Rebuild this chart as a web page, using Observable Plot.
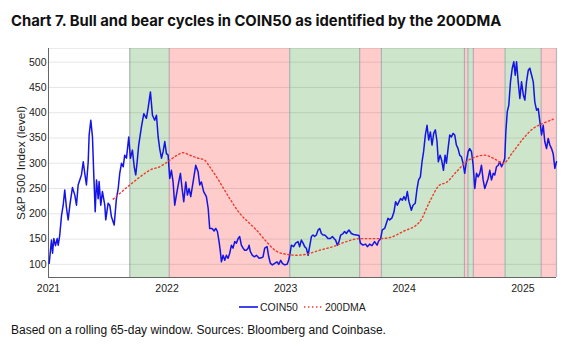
<!DOCTYPE html>
<html>
<head>
<meta charset="utf-8">
<script src="https://cdn.jsdelivr.net/npm/d3@7"></script>
<script src="https://cdn.jsdelivr.net/npm/@observablehq/plot@0.6"></script>
<style>
  html, body { margin: 0; padding: 0; background: #fff; }
  body { width: 573px; height: 348px; position: relative; overflow: hidden; }
  #title { position: absolute; left: 11px; top: 12px; font: 700 14.8px Inter, "Liberation Sans", sans-serif; color: #111; white-space: nowrap; line-height: 18px; }
  #chart { position: absolute; left: 0; top: 36px; }
  #ylabel { position: absolute; left: 21px; top: 163px; transform: translate(-50%, -50%) rotate(-90deg); font: 11.8px "Liberation Sans", sans-serif; color: #222; white-space: nowrap; }
  #legend { position: absolute; left: 239px; top: 301px; display: flex; align-items: center; font: 10.5px "Liberation Sans Narrow", "Liberation Sans", sans-serif; color: #222; }
  #legend span { margin: 0 6px 0 2px; }
  #caption { position: absolute; left: 11px; top: 323px; font: 12px "Liberation Sans", sans-serif; color: #111; white-space: nowrap; }
</style>
</head>
<body>
<div id="title">Chart 7. Bull and bear cycles in COIN50 as identified by the 200DMA</div>
<div id="chart"></div>
<div id="ylabel"></div>
<div id="legend"></div>
<div id="caption">Based on a rolling 65-day window. Sources: Bloomberg and Coinbase.</div>
<script>
// ---- Data ----
const seriesNames = ["COIN50", "200DMA"];
const seriesColors = ["#1414e6", "#f03a2c"];

// COIN50 index level, dates as decimal years
const coinYear = [
  2021.006,2021.025,2021.034,2021.045,2021.059,2021.073,2021.082,2021.095,2021.110,2021.124,
  2021.137,2021.152,2021.166,2021.180,2021.202,2021.222,2021.236,2021.250,2021.264,2021.278,
  2021.293,2021.306,2021.320,2021.335,2021.343,2021.357,2021.371,2021.382,2021.394,2021.405,
  2021.419,2021.427,2021.441,2021.455,2021.475,2021.483,2021.503,2021.517,2021.531,2021.554,
  2021.573,2021.588,2021.601,2021.616,2021.630,2021.643,2021.658,2021.677,2021.691,2021.708,
  2021.723,2021.736,2021.748,2021.761,2021.784,2021.804,2021.826,2021.841,2021.860,2021.877,
  2021.896,2021.911,2021.925,2021.938,2021.953,2021.967,2021.981,2021.995,2022.009,2022.023,
  2022.037,2022.051,2022.065,2022.079,2022.099,2022.113,2022.127,2022.141,2022.158,2022.172,
  2022.186,2022.200,2022.220,2022.242,2022.262,2022.276,2022.290,2022.309,2022.332,2022.347,
  2022.360,2022.380,2022.397,2022.411,2022.425,2022.439,2022.450,2022.459,2022.473,2022.487,
  2022.501,2022.515,2022.529,2022.543,2022.557,2022.571,2022.585,2022.600,2022.613,2022.627,
  2022.642,2022.655,2022.669,2022.684,2022.692,2022.703,2022.720,2022.739,2022.754,2022.777,
  2022.796,2022.810,2022.824,2022.844,2022.858,2022.872,2022.889,2022.908,2022.928,2022.942,
  2022.959,2022.973,2022.992,2023.013,2023.026,2023.035,2023.049,2023.068,2023.085,2023.105,
  2023.119,2023.133,2023.148,2023.161,2023.175,2023.190,2023.203,2023.218,2023.232,2023.245,
  2023.260,2023.274,2023.288,2023.302,2023.316,2023.330,2023.344,2023.358,2023.378,2023.395,
  2023.409,2023.422,2023.437,2023.451,2023.465,2023.485,2023.498,2023.513,2023.527,2023.535,
  2023.555,2023.574,2023.597,2023.620,2023.631,2023.653,2023.675,2023.690,2023.709,2023.729,
  2023.751,2023.772,2023.785,2023.802,2023.816,2023.836,2023.850,2023.864,2023.878,2023.898,
  2023.915,2023.928,2023.943,2023.957,2023.970,2023.985,2023.999,2024.013,2024.027,2024.041,
  2024.061,2024.075,2024.094,2024.109,2024.122,2024.137,2024.151,2024.164,2024.179,2024.193,
  2024.207,2024.221,2024.235,2024.249,2024.263,2024.277,2024.288,2024.303,2024.316,2024.331,
  2024.345,2024.356,2024.370,2024.384,2024.398,2024.412,2024.426,2024.440,2024.454,2024.468,
  2024.482,2024.496,2024.510,2024.524,2024.539,2024.552,2024.567,2024.581,2024.595,2024.609,
  2024.623,2024.637,2024.651,2024.665,2024.679,2024.693,2024.707,2024.721,2024.735,2024.750,
  2024.763,2024.777,2024.792,2024.805,2024.820,2024.834,2024.847,2024.856,2024.868,2024.881,
  2024.895,2024.910,2024.923,2024.935,2024.946,2024.960,2024.974,2024.988,2025.003,2025.016,
  2025.030,2025.045,2025.058,2025.073,2025.087,2025.100,2025.115,2025.129,2025.143,2025.157,
  2025.171,2025.184,2025.199,2025.213,2025.227,2025.241,2025.255,2025.269,2025.283
];
const coinValue = [
  102,148,122,151,137,151,138,158,197,217,
  247,211,188,217,252,237,217,257,267,277,
  303,280,257,303,356,385,352,277,204,267,
  230,264,217,244,217,188,221,217,194,178,
  230,250,280,300,293,316,310,352,310,326,
  293,277,303,336,372,398,389,410,441,395,
  385,395,352,329,310,323,343,319,316,270,
  286,263,217,237,263,280,250,224,263,237,
  250,234,263,296,283,257,263,244,234,211,
  171,171,166,171,165,145,125,105,118,108,
  118,112,122,138,132,145,142,151,155,138,
  132,128,128,132,138,125,118,115,118,112,
  113,115,132,135,115,102,99,102,105,100,
  108,102,99,100,108,118,138,135,142,145,
  135,148,142,135,132,118,135,155,158,155,
  158,168,171,161,158,158,155,151,151,155,
  151,148,138,145,158,161,165,161,166,168,
  161,159,158,157,142,138,140,135,140,137,
  145,138,146,151,168,171,181,191,188,192,
  204,224,217,224,230,227,234,227,244,224,
  207,217,221,250,267,273,303,323,356,375,
  346,362,336,359,366,343,303,316,306,286,
  316,300,329,356,352,359,356,336,329,316,
  313,300,280,303,323,329,323,296,250,280,
  273,280,296,267,250,260,270,286,267,280,
  277,293,296,303,293,300,310,362,402,415,
  461,488,501,474,501,461,428,461,435,425,
  461,484,488,474,461,421,405,408,382,356,
  375,343,329,349,336,329,319,290,303
];

// 200-day moving average
const dmaYear = [
  2021.546,2021.686,2021.826,2021.860,2021.938,2022.023,2022.079,2022.136,2022.191,2022.248,
  2022.318,2022.360,2022.444,2022.529,2022.613,2022.697,2022.754,2022.838,2022.922,2023.007,
  2023.091,2023.175,2023.288,2023.400,2023.513,2023.625,2023.793,2023.878,2023.991,2024.131,
  2024.215,2024.299,2024.356,2024.440,2024.524,2024.609,2024.679,2024.750,2024.834,2024.918,
  2025.003,2025.087,2025.171,2025.255
];
const dmaValue = [
  229,257,282,287,293,306,315,321,316,311,
  306,293,263,230,201,181,168,145,126,120,
  118,120,128,135,145,151,151,153,165,184,
  224,257,262,283,303,313,316,310,300,323,
  349,369,379,387
];

// Bull / bear regimes
const regimeStart = [2021.686,2022.018,2023.035,2023.625,2023.808,2024.508,2024.537,2024.582,2024.849,2025.153];
const regimeEnd   = [2022.018,2023.035,2023.625,2023.808,2024.508,2024.537,2024.582,2024.849,2025.153,2025.283];
const regimeType  = ["bull","bear","bull","bear","bull","bear","bull","bear","bull","bear"];
const regimeColors = {bull: "#cde6cb", bear: "#ffcccc"};

const xTickYears = [2021, 2022, 2023, 2024, 2025];
const yTicks = [100, 150, 200, 250, 300, 350, 400, 450, 500];
const yDomain = [74, 527];
const xDomainYears = [2021, 2025.283];
const yLabel = "S&P 500 Index (level)";

// ---- Build ----
function toDate(v) {
  const y = Math.floor(v);
  const a = Date.UTC(y, 0, 1), b = Date.UTC(y + 1, 0, 1);
  return new Date(a + (v - y) * (b - a));
}
const coin = coinYear.map((t, i) => ({date: toDate(t), value: coinValue[i]}));
const dma = dmaYear.map((t, i) => ({date: toDate(t), value: dmaValue[i]}));
const regimes = regimeStart.map((s, i) => ({x1: toDate(s), x2: toDate(regimeEnd[i]), type: regimeType[i]}));
const boundaries = regimeStart.concat([regimeEnd[regimeEnd.length - 1]]).map(toDate);

const axisFont = "'Liberation Sans Narrow', 'Liberation Sans', sans-serif";

const chart = Plot.plot({
  width: 573,
  height: 260,
  marginTop: 12,
  marginBottom: 19,
  marginLeft: 48,
  marginRight: 17,
  style: {fontFamily: axisFont, fontSize: "10.5px", background: "transparent", color: "#222"},
  x: {type: "utc", domain: xDomainYears.map(toDate)},
  y: {domain: yDomain},
  marks: [
    Plot.rect(regimes, {x1: "x1", x2: "x2", y1: () => yDomain[0], y2: () => yDomain[1], fill: d => regimeColors[d.type]}),
    Plot.gridY(yTicks, {stroke: "#000", strokeOpacity: 0.1, strokeWidth: 1}),
    Plot.ruleX(boundaries, {stroke: "#9a9aa8", strokeWidth: 1.2, strokeOpacity: 0.7}),
    Plot.ruleY([yDomain[1]], {stroke: "#000", strokeOpacity: 0.08}),
    Plot.ruleX([toDate(xDomainYears[0])], {stroke: "#666", strokeWidth: 1}),
    Plot.ruleY([yDomain[0]], {stroke: "#666", strokeWidth: 1}),
    Plot.line(coin, {x: "date", y: "value", stroke: seriesColors[0], strokeWidth: 1.5}),
    Plot.line(dma, {x: "date", y: "value", stroke: seriesColors[1], strokeWidth: 1.4, strokeDasharray: "1.4,2.6", curve: "monotone-x"}),
    Plot.axisX({ticks: xTickYears.map(toDate), tickFormat: d3.utcFormat("%Y"), tickSize: 0, tickPadding: 7, label: null}),
    Plot.axisY({ticks: yTicks, tickSize: 0, tickPadding: 2, label: null})
  ]
});
document.getElementById("chart").appendChild(chart);
document.getElementById("ylabel").textContent = yLabel;

// Legend
const legend = document.getElementById("legend");
seriesNames.forEach((name, i) => {
  const ns = "http://www.w3.org/2000/svg";
  const svg = document.createElementNS(ns, "svg");
  svg.setAttribute("width", "19"); svg.setAttribute("height", "10");
  const ln = document.createElementNS(ns, "line");
  ln.setAttribute("x1", "0"); ln.setAttribute("x2", "19");
  ln.setAttribute("y1", "5"); ln.setAttribute("y2", "5");
  ln.setAttribute("stroke", seriesColors[i]);
  ln.setAttribute("stroke-width", i === 0 ? "1.6" : "1.4");
  if (i === 1) ln.setAttribute("stroke-dasharray", "1.4,2.6");
  svg.appendChild(ln);
  legend.appendChild(svg);
  const sp = document.createElement("span");
  sp.textContent = name;
  legend.appendChild(sp);
});
</script>
</body>
</html>
